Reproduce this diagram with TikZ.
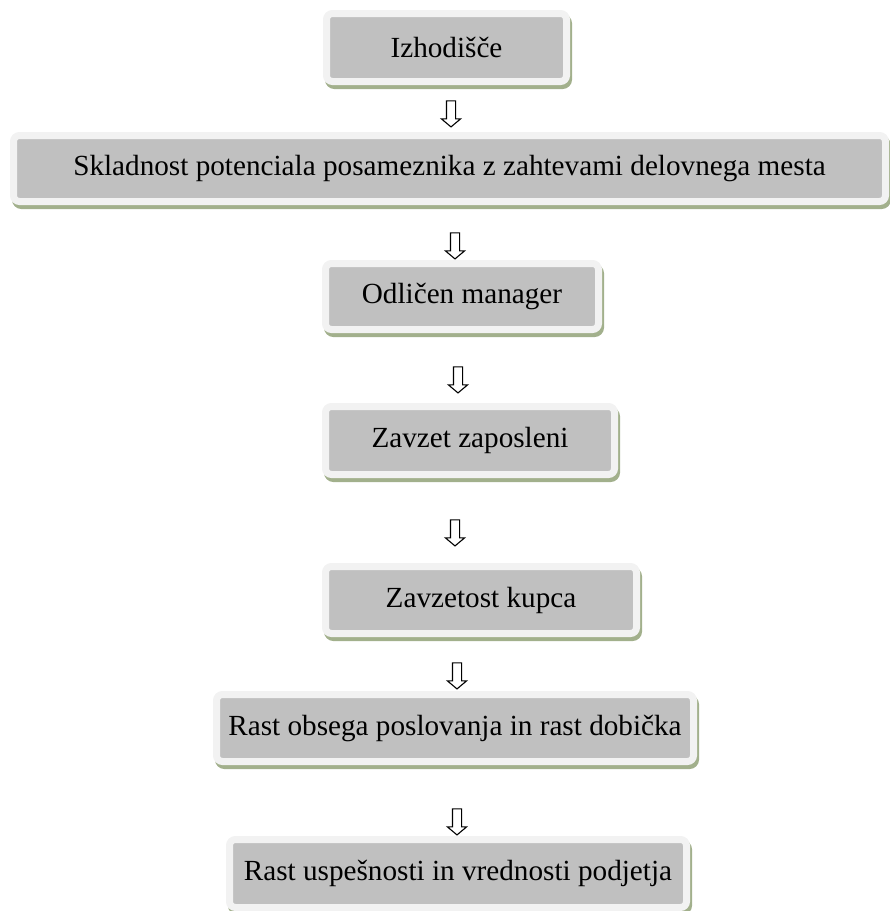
\documentclass[tikz,border=0pt]{standalone}
\usepackage{fontspec}
\setmainfont{Liberation Serif}
\usetikzlibrary{shapes.arrows}
\definecolor{boxgray}{HTML}{C0C0C0}
\definecolor{rimgray}{HTML}{F2F2F2}
\definecolor{shadowgreen}{HTML}{A2B08C}
\tikzset{
  flowbox/.style={rectangle, rounded corners=6pt, inner sep=0pt,
    fill=boxgray, draw=rimgray, line width=7pt,
    font=\fontsize{29.2}{35}\selectfont,
    preaction={draw=shadowgreen, fill=shadowgreen, line width=7pt,
      transform canvas={xshift=2pt, yshift=-4pt}}},
  downarrow/.style={single arrow, shape border rotate=270, draw=black,
    fill=white, line width=1.1pt, inner sep=0pt, minimum width=19pt,
    minimum height=26pt, single arrow head extend=5pt,
    single arrow tip angle=100, text width=8pt}
}
\begin{document}
\begin{tikzpicture}[x=1pt, y=-1pt]
\useasboundingbox (0,0) rectangle (890,911);
\node[flowbox, minimum width=240pt, minimum height=68pt] (b1) at (446.5,47.5) {Izhodišče};
\node[flowbox, minimum width=872pt, minimum height=66pt] (b2) at (449.5,168.5) {Skladnost potenciala posameznika z zahtevami delovnega mesta};
\node[flowbox, minimum width=273pt, minimum height=66pt] (b3) at (462,296.5) {Odličen manager};
\node[flowbox, minimum width=289pt, minimum height=68pt] (b4) at (470,440.5) {Zavzet zaposleni};
\node[flowbox, minimum width=311pt, minimum height=67pt] (b5) at (481,600) {Zavzetost kupca};
\node[flowbox, minimum width=477pt, minimum height=67pt] (b6) at (455,728) {Rast obsega poslovanja in rast dobička};
\node[flowbox, minimum width=457pt, minimum height=68pt] (b7) at (458,873.5) {Rast uspešnosti in vrednosti podjetja};
\node[downarrow] (a1) at (451,112) {};
\node[downarrow] (a2) at (455,244) {};
\node[downarrow] (a3) at (458,378) {};
\node[downarrow] (a4) at (455,531) {};
\node[downarrow] (a5) at (457,674) {};
\node[downarrow] (a6) at (457,820) {};
\end{tikzpicture}
\end{document}
